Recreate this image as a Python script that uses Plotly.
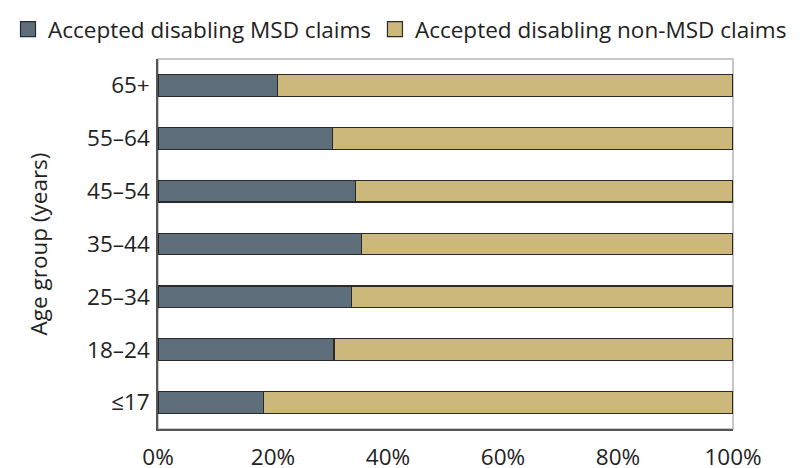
import plotly.graph_objects as go

# age groups, bottom to top
age_groups = ["≤17", "18–24", "25–34", "35–44", "45–54", "55–64", "65+"]
msd_pct = [18.3, 30.6, 33.7, 35.4, 34.3, 30.3, 20.8]
non_msd_pct = [100 - v for v in msd_pct]

series_names = ["Accepted disabling MSD claims", "Accepted disabling non-MSD claims"]

x_ticks = [0, 20, 40, 60, 80, 100]
x_tick_labels = ["0%", "20%", "40%", "60%", "80%", "100%"]

col_msd = "#5e6e7b"
col_non = "#cbb87a"
edge = "#2a2a2a"
font_fam = "Open Sans"
fsize = 22.5

fig = go.Figure()

fig.add_trace(go.Bar(
    y=age_groups, x=msd_pct, orientation="h",
    name=series_names[0], showlegend=False,
    marker=dict(color=col_msd, line=dict(color=edge, width=1.2)),
    width=0.41,
))
fig.add_trace(go.Bar(
    y=age_groups, x=non_msd_pct, orientation="h",
    name=series_names[1], showlegend=False,
    marker=dict(color=col_non, line=dict(color=edge, width=1.2)),
    width=0.41,
))

# legend entries with bigger square swatches, one legend each so they sit on one row
for nm, c, lg in zip(series_names, [col_msd, col_non], ["legend", "legend2"]):
    fig.add_trace(go.Scatter(
        x=[None], y=[None], mode="markers", name=nm, legend=lg,
        marker=dict(symbol="square", size=15, color=c, line=dict(color=edge, width=1.2)),
    ))

# light frame on top/right, dark axis lines left/bottom
fig.add_shape(type="rect", xref="paper", yref="paper", x0=0, y0=0, x1=1, y1=1,
              line=dict(color="#b5b5b5", width=1.5), layer="below")

fig.update_xaxes(
    range=[0, 100], tickvals=x_ticks, ticktext=x_tick_labels,
    showgrid=False, zeroline=False, automargin=False,
    showline=True, linecolor="#555555", linewidth=1.5,
    ticks="outside", ticklen=7, tickcolor="rgba(0,0,0,0)",
    tickfont=dict(size=fsize, color="#222222"),
)
fig.update_yaxes(
    showgrid=False, zeroline=False, automargin=False,
    showline=True, linecolor="#555555", linewidth=1.5,
    ticks="outside", ticklen=2, tickcolor="rgba(0,0,0,0)",
    tickfont=dict(size=fsize, color="#222222"),
    title=dict(text="Age group (years)", font=dict(size=fsize, color="#222222"), standoff=33),
)

leg_common = dict(orientation="h", xref="container", yref="container",
                  y=1.0, xanchor="left", yanchor="top",
                  font=dict(size=fsize, color="#222222"), itemwidth=30,
                  bgcolor="rgba(0,0,0,0)")

# page body has an 8px margin, so the figure is a bit smaller than the window
fig.update_layout(
    width=796, height=460,
    barmode="stack",
    plot_bgcolor="white", paper_bgcolor="white",
    font=dict(family=font_fam, color="#222222"),
    margin=dict(l=150, r=71, t=51, b=39),
    legend=dict(x=0.0, **leg_common),
    legend2=dict(x=0.461, **leg_common),
)

fig.write_html("out.html")
